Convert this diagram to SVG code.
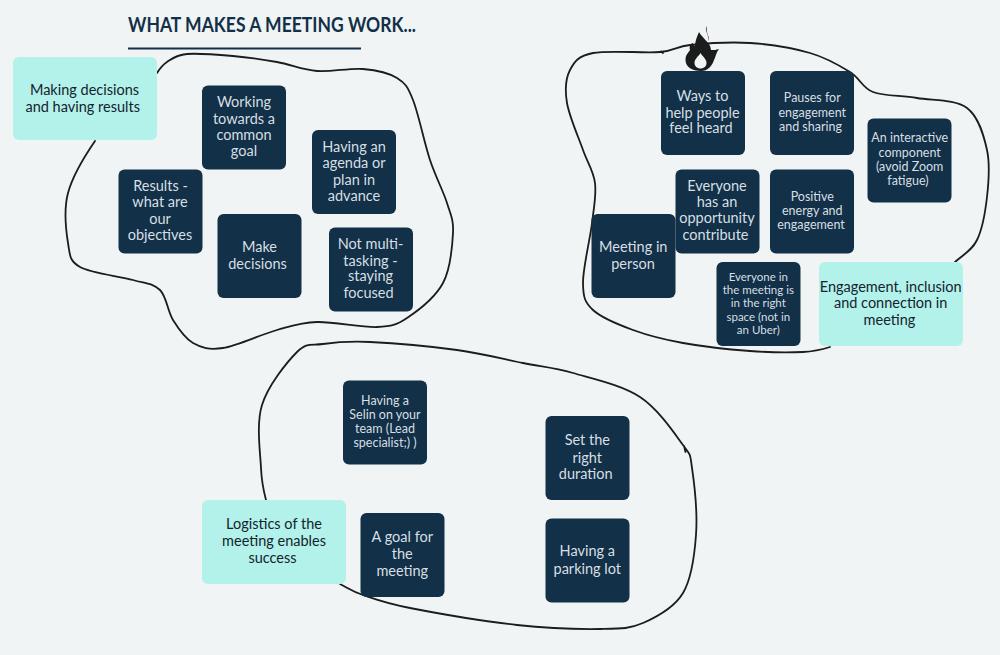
<svg xmlns="http://www.w3.org/2000/svg" width="1000" height="655" viewBox="0 0 1000 655">
<style>
text{font-family:"Lato","Liberation Sans",sans-serif;text-anchor:middle}
.n{fill:#123047}
.t{fill:#b2f2ea}
.n+text{fill:#d6dfe3;font-size:14.5px}
.t+text{fill:#14232e;font-size:14.5px}
.s12.s12{font-size:12.5px}
.s11.s11{font-size:11.5px}
.c{fill:none;stroke:#1c1c1c;stroke-width:1.8;stroke-linecap:round;stroke-linejoin:round}
</style>
<rect width="1000" height="655" fill="#f0f4f5"/>
<g id="title">
<text x="272" y="32" font-size="20" font-weight="700" fill="#123047" textLength="288" lengthAdjust="spacingAndGlyphs">WHAT MAKES A MEETING WORK...</text>
<rect x="128" y="47.5" width="233" height="2" fill="#123047"/>
</g>
<g id="connectors">
<path class="c" d="M157 73S162 65.2 167 62S176 55 187 54S218 54.7 233 56S263 59.5 277 62S302.7 69.8 317 71S349.7 67.8 363 69S388.7 72.8 397 78S407.5 86.3 413 100S424.3 142.8 430 160S443.2 190.8 447 203S453.7 219.7 453 233S450.7 268.8 443 283S418 310.7 407 318S392 326.3 377 327S333.7 321.5 317 322S292.7 325.7 277 330S237 345.8 223 348S201.3 347.7 193 343S178.5 328.8 173 320S166.7 296.7 160 290S146.3 283.8 133 280S90.8 273.2 80 267S70 255.3 68 243S63.5 210 68 193S82 160 95 141"/>
<path class="c" d="M830 347S816.3 351.3 803 352S770 352.5 750 351S702.5 346.5 683 343S648 335.5 633 330S601.3 317.8 593 310S583.2 297.5 583 283S590 239.7 592 223S596.5 195.2 595 183S587.7 163.3 583 150S569.2 116.3 567 103S565.7 78.3 570 70S578 56 593 53S643.8 53.3 660 52S675 46.5 690 45S730 41.7 750 43S793.3 48.2 810 53S839.5 65.5 850 72S861.8 87.7 873 92S901.3 95.3 917 98S955.3 99.3 967 108S983.7 135.2 987 150S988.7 182 987 197S982.3 229.2 977 240S964 254 955 262"/>
<path class="c" d="M661 51.5L663 53M266 500S261.7 483.8 261 468S256 424.3 262 405S286.8 362.2 297 352S310.8 345.7 323 344S347.7 341 370 342S431.5 346.5 457 350S503.7 359.2 523 363S553.5 367.3 573 373S621.7 385 640 397S674.3 433.2 683 445S689.8 453 692 468S697.5 514.2 696 535S691.8 578.3 683 593S656.8 617 643 623S621 628.7 600 629S548.7 628.5 517 625S435.7 613 410 608S374.7 599 363 595S348 588 340 584M684 446L685.500 452"/>
</g>
<g id="flame"><path fill="#1c1c1c" fill-rule="evenodd" d="M699 32C702 38 711 43 711 50C714 50 716 50 719 49C716 53 716 56 714 60C712 66 708 71 701 71C692 71 685 67 685.500 59C686 54 689 52 690 50C689 47 690 44 693 43C693 45 694 46 695 46C695 41 697 37 699 32ZM700.500 53C703 57 706.500 59 706.500 63C706.500 67 703 68.500 700.500 68.500C697 68.500 694.500 66 694.500 63C694.500 59 698 57 700.500 53ZM707 26C704 30 708 33 708 37C709 41 708 42 708 42C711 37 705 33 707 26Z"/></g>

<g id="n1"><rect class="t" x="13" y="57" width="144" height="83" rx="6"/><text><tspan x="84.500" y="94.500">Making decisions</tspan><tspan x="82.700" y="111.700">and having results</tspan></text></g>
<g id="n2"><rect class="n" x="202" y="85.500" width="84" height="84" rx="6"/><text><tspan x="244" y="107">Working</tspan><tspan x="244" y="123.500">towards a</tspan><tspan x="244" y="139.700">common</tspan><tspan x="244" y="156">goal</tspan></text></g>
<g id="n3"><rect class="n" x="312" y="130" width="84" height="84" rx="6"/><text><tspan x="354" y="152">Having an</tspan><tspan x="354" y="168">agenda or</tspan><tspan x="354" y="185">plan in</tspan><tspan x="354" y="201">advance</tspan></text></g>
<g id="n4"><rect class="n" x="118.500" y="169.500" width="84" height="84" rx="6"/><text><tspan x="160.500" y="191">Results -</tspan><tspan x="160" y="207">what are</tspan><tspan x="160" y="223.500">our</tspan><tspan x="160" y="240">objectives</tspan></text></g>
<g id="n5"><rect class="n" x="217.500" y="214" width="84" height="84" rx="6"/><text><tspan x="259.500" y="252">Make</tspan><tspan x="257.500" y="269">decisions</tspan></text></g>
<g id="n6"><rect class="n" x="329" y="227.500" width="84" height="84" rx="6"/><text><tspan x="370.500" y="249">Not multi-</tspan><tspan x="370.500" y="265.500">tasking -</tspan><tspan x="370.500" y="281">staying</tspan><tspan x="368.500" y="298">focused</tspan></text></g>

<g id="n7"><rect class="n" x="661" y="71" width="84" height="84" rx="6"/><text><tspan x="702.500" y="101">Ways to</tspan><tspan x="702.500" y="117.700">help people</tspan><tspan x="701" y="133.300">feel heard</tspan></text></g>
<g id="n8"><rect class="n" x="770" y="71" width="84" height="84" rx="6"/><text class="s12"><tspan x="812.300" y="102.300">Pauses for</tspan><tspan x="812.300" y="116.700">engagement</tspan><tspan x="810.500" y="130.700">and sharing</tspan></text></g>
<g id="n9"><rect class="n" x="867.500" y="118.500" width="84" height="84" rx="6"/><text class="s12"><tspan x="909.700" y="142.300">An interactive</tspan><tspan x="909.700" y="156.700">component</tspan><tspan x="909.700" y="171">(avoid Zoom</tspan><tspan x="908" y="185">fatigue)</tspan></text></g>
<g id="n10"><rect class="n" x="675.500" y="169.500" width="84" height="84" rx="6"/><text><tspan x="717" y="191">Everyone</tspan><tspan x="717" y="206.700">has an</tspan><tspan x="717" y="223">opportunity</tspan><tspan x="715.500" y="240">contribute</tspan></text></g>
<g id="n11"><rect class="n" x="770" y="169.500" width="84" height="84" rx="6"/><text class="s12"><tspan x="812.300" y="200.700">Positive</tspan><tspan x="812.300" y="215">energy and</tspan><tspan x="811" y="229">engagement</tspan></text></g>
<g id="n12"><rect class="n" x="591.500" y="214" width="84" height="84" rx="6"/><text><tspan x="633.300" y="252">Meeting in</tspan><tspan x="633" y="269.300">person</tspan></text></g>
<g id="n13"><rect class="n" x="716.500" y="262" width="84" height="84" rx="6"/><text class="s11"><tspan x="758.300" y="281">Everyone in</tspan><tspan x="758.300" y="294">the meeting is</tspan><tspan x="758.300" y="307">in the right</tspan><tspan x="758.300" y="320.700">space (not in</tspan><tspan x="758.300" y="334">an Uber)</tspan></text></g>
<g id="n14"><rect class="t" x="819" y="262" width="144" height="84" rx="6"/><text><tspan x="890.700" y="292">Engagement, inclusion</tspan><tspan x="890.700" y="308.300">and connection in</tspan><tspan x="889.500" y="325">meeting</tspan></text></g>

<g id="n15"><rect class="n" x="343" y="380.500" width="84" height="84" rx="6"/><text class="s12"><tspan x="385" y="404.700">Having a</tspan><tspan x="385" y="418.700">Selin on your</tspan><tspan x="385" y="433.300">team (Lead</tspan><tspan x="385" y="447.300">specialist;) )</tspan></text></g>
<g id="n16"><rect class="n" x="545.500" y="416" width="84" height="84" rx="6"/><text><tspan x="587.300" y="444.700">Set the</tspan><tspan x="587.300" y="462.700">right</tspan><tspan x="585.700" y="479.300">duration</tspan></text></g>
<g id="n17"><rect class="t" x="202" y="500" width="144" height="84" rx="6"/><text><tspan x="274" y="529">Logistics of the</tspan><tspan x="274" y="546.300">meeting enables</tspan><tspan x="272.500" y="563.300">success</tspan></text></g>
<g id="n18"><rect class="n" x="360.500" y="513" width="84" height="84" rx="6"/><text><tspan x="402.300" y="542">A goal for</tspan><tspan x="402.300" y="559">the</tspan><tspan x="402.300" y="576.300">meeting</tspan></text></g>
<g id="n19"><rect class="n" x="545.500" y="518.500" width="84" height="84" rx="6"/><text><tspan x="587.300" y="556.300">Having a</tspan><tspan x="587.300" y="574">parking lot</tspan></text></g>
</svg>
